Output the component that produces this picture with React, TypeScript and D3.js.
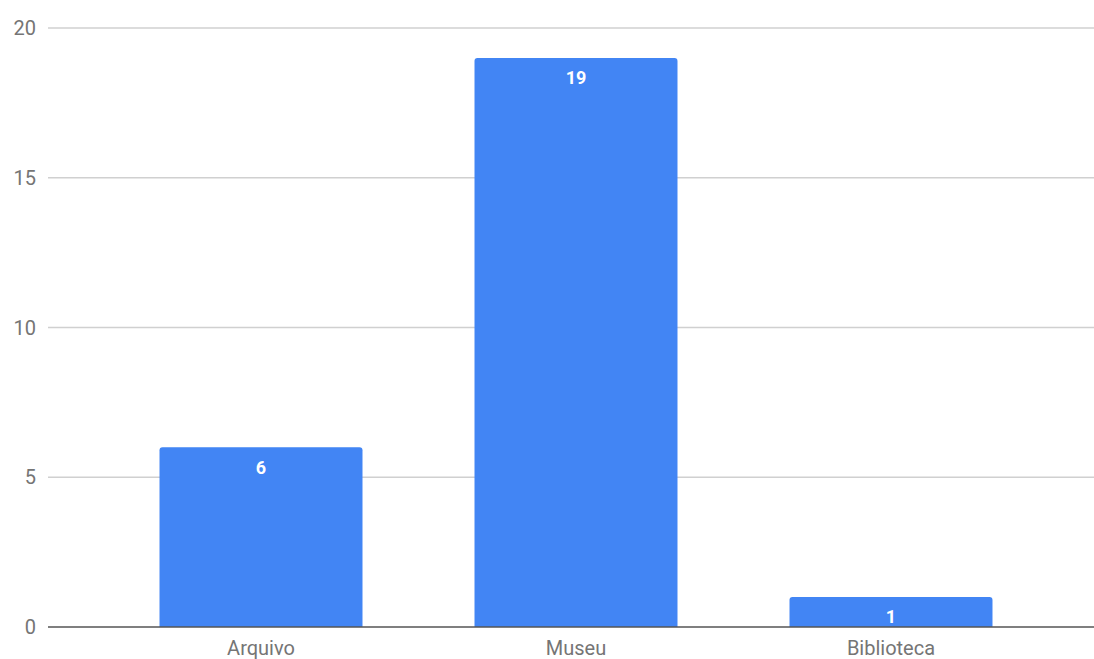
import React from "react";
import * as d3 from "d3";

const categories = ["Arquivo", "Museu", "Biblioteca"];
const values = [6, 19, 1];
const yTicks = [0, 5, 10, 15, 20];

const W = 1094;
const H = 659;

export default function App() {
  const x = d3.scaleBand<string>().domain(categories).range([48, 1104]).paddingInner(0.3556).paddingOuter(0.354);
  const y = d3.scaleLinear().domain([0, 20]).range([627, 28]);
  const bw = x.bandwidth();
  const r = 3;
  const barPath = (x0: number, y0: number, w: number, h: number) => {
    const p = d3.path();
    p.moveTo(x0, y0 + h);
    p.lineTo(x0, y0 + r);
    p.quadraticCurveTo(x0, y0, x0 + r, y0);
    p.lineTo(x0 + w - r, y0);
    p.quadraticCurveTo(x0 + w, y0, x0 + w, y0 + r);
    p.lineTo(x0 + w, y0 + h);
    p.closePath();
    return p.toString();
  };
  return (
    <svg width={W} height={H} style={{ position: "absolute", left: 0, top: 0, background: "#fff" }} fontFamily="Roboto, sans-serif">
      {yTicks.filter((t) => t !== 0).map((t) => (
        <line key={t} x1={48} x2={W} y1={y(t)} y2={y(t)} stroke="#d0d0d0" strokeWidth={1.5} />
      ))}
      {yTicks.map((t) => (
        <text key={"l" + t} x={36} y={y(t)} dy="0.35em" textAnchor="end" fontSize={20} fill="#757575">
          {t}
        </text>
      ))}
      {categories.map((c, i) => {
        const x0 = x(c)!;
        const y0 = y(values[i]);
        return (
          <g key={c}>
            <path d={barPath(x0, y0, bw, y(0) - y0)} fill="#4285f4" />
            <text x={x0 + bw / 2} y={y0 + 20} dy="0.35em" textAnchor="middle" fontSize={18} fontWeight="bold" fill="#ffffff">
              {values[i]}
            </text>
            <text x={x0 + bw / 2} y={655} textAnchor="middle" fontSize={20} fill="#757575">
              {c}
            </text>
          </g>
        );
      })}
      <line x1={48} x2={W} y1={y(0)} y2={y(0)} stroke="#555" strokeWidth={1.5} />
    </svg>
  );
}
